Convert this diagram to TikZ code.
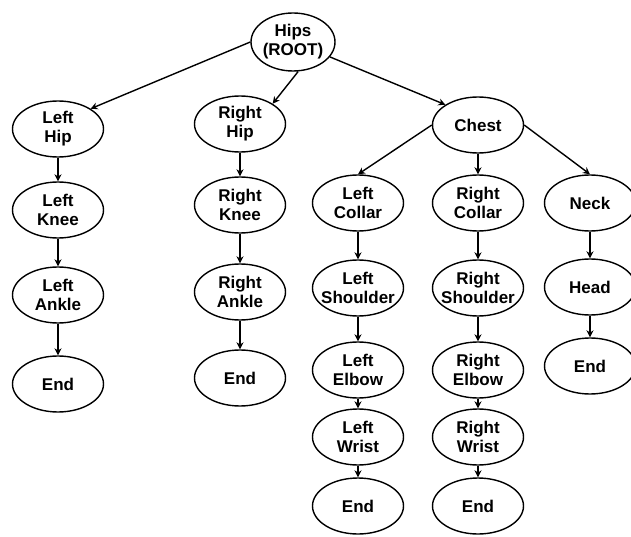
\documentclass[tikz,border=0pt]{standalone}
\usepackage{fontspec}
\setmainfont{Liberation Sans}
\usetikzlibrary{shapes.geometric,arrows.meta}
\begin{document}
\begin{tikzpicture}[x=1pt,y=-1pt,
  joint/.style={ellipse,draw,line width=1.4pt,minimum width=91pt,minimum height=56pt,inner xsep=-8pt,inner ysep=-3pt,align=center,font=\fontsize{17}{19}\selectfont\bfseries},
  link/.style={line width=1.4pt,-{Stealth[length=7pt,width=7pt]}}]
\useasboundingbox (0,0) rectangle (631,537);
\node[joint,minimum width=84pt,minimum height=58pt] (hips) at (293,42) {Hips\\(ROOT)};
\node[joint] (lhip) at (58,129) {Left\\Hip};
\node[joint] (lknee) at (58,210) {Left\\Knee};
\node[joint] (lankle) at (58,295) {Left\\Ankle};
\node[joint] (lend) at (58,384) {End};
\node[joint] (rhip) at (240,124) {Right\\Hip};
\node[joint] (rknee) at (240,205) {Right\\Knee};
\node[joint] (rankle) at (240,292) {Right\\Ankle};
\node[joint] (rend) at (240,378) {End};
\node[joint] (chest) at (478,125) {Chest};
\node[joint] (lcollar) at (358,203) {Left\\Collar};
\node[joint] (lshoulder) at (358,288) {Left\\Shoulder};
\node[joint] (lelbow) at (358,370) {Left\\Elbow};
\node[joint] (lwrist) at (358,437) {Left\\Wrist};
\node[joint] (laend) at (358,506) {End};
\node[joint] (rcollar) at (478,203) {Right\\Collar};
\node[joint] (rshoulder) at (478,288) {Right\\Shoulder};
\node[joint] (relbow) at (478,370) {Right\\Elbow};
\node[joint] (rwrist) at (478,437) {Right\\Wrist};
\node[joint] (raend) at (478,506) {End};
\node[joint] (neck) at (590,203) {Neck};
\node[joint] (head) at (590,287) {Head};
\node[joint] (hend) at (590,366) {End};
\draw[link] (hips.west) -- (lhip.north east);
\draw[link] (hips.-80) -- (rhip.north east);
\draw[link] (hips.-22) -- (chest.north west);
\draw[link] (lhip) -- (lknee);
\draw[link] (lknee) -- (lankle);
\draw[link] (lankle) -- (lend);
\draw[link] (rhip) -- (rknee);
\draw[link] (rknee) -- (rankle);
\draw[link] (rankle) -- (rend);
\draw[link] (chest.west) -- (lcollar.north);
\draw[link] (chest) -- (rcollar);
\draw[link] (chest.east) -- (neck.north);
\draw[link] (lcollar) -- (lshoulder);
\draw[link] (lshoulder) -- (lelbow);
\draw[link] (lelbow) -- (lwrist);
\draw[link] (lwrist) -- (laend);
\draw[link] (rcollar) -- (rshoulder);
\draw[link] (rshoulder) -- (relbow);
\draw[link] (relbow) -- (rwrist);
\draw[link] (rwrist) -- (raend);
\draw[link] (neck) -- (head);
\draw[link] (head) -- (hend);
\end{tikzpicture}
\end{document}
